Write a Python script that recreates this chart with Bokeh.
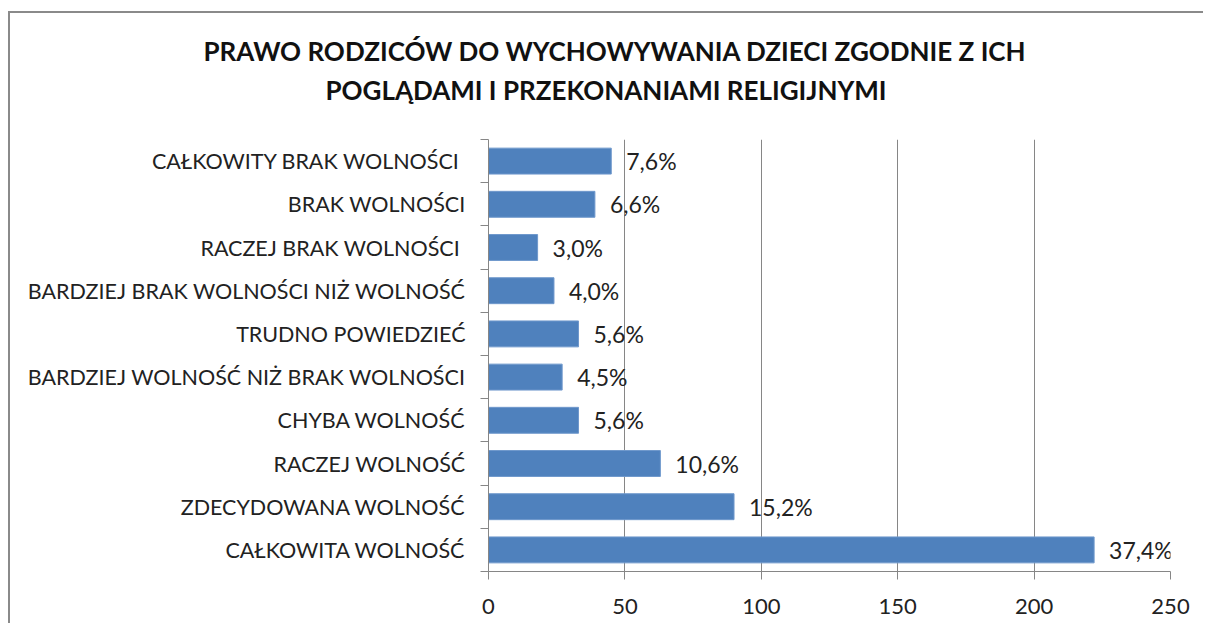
from bokeh.plotting import figure
from bokeh.models import Range1d, FixedTicker, ColumnDataSource, LabelSet, Title
from bokeh.core.properties import value
from bokeh.embed import file_html
from bokeh.resources import INLINE

categories = [
    "CAŁKOWITY BRAK WOLNOŚCI ",
    "BRAK WOLNOŚCI",
    "RACZEJ BRAK WOLNOŚCI ",
    "BARDZIEJ BRAK WOLNOŚCI NIŻ WOLNOŚĆ",
    "TRUDNO POWIEDZIEĆ",
    "BARDZIEJ WOLNOŚĆ NIŻ BRAK WOLNOŚCI",
    "CHYBA WOLNOŚĆ",
    "RACZEJ WOLNOŚĆ",
    "ZDECYDOWANA WOLNOŚĆ",
    "CAŁKOWITA WOLNOŚĆ",
]
counts = [45, 39, 18, 24, 33, 27, 33, 63, 90, 222]
percent_labels = ["7,6%", "6,6%", "3,0%", "4,0%", "5,6%", "4,5%", "5,6%", "10,6%", "15,2%", "37,4%"]
x_ticks = [0, 50, 100, 150, 200, 250]
title_lines = ["PRAWO RODZICÓW DO WYCHOWYWANIA DZIECI ZGODNIE Z ICH",
               "POGLĄDAMI I PRZEKONANIAMI RELIGIJNYMI"]

n = len(categories)
ypos = [n - 1 - i for i in range(n)]

FONT = "Lato"
GRAY = "#868686"

p = figure(width=1195, height=612, output_backend="svg", toolbar_location=None,
           x_range=Range1d(0, 250), y_range=Range1d(-0.5, n - 0.5),
           min_border_left=478, min_border_right=35, min_border_top=126, min_border_bottom=54)
p.margin = (13, 0, 0, 10)
p.styles = {"box-shadow": "-2px -2px 0px 0px #8a8a8a"}
p.outline_line_color = None
p.background_fill_color = "white"
p.border_fill_color = "white"

src = ColumnDataSource(dict(y=ypos, right=counts, lab=percent_labels))
p.hbar(y="y", right="right", left=0, height=0.6, source=src,
       fill_color="#4F81BD", line_color="#6f98cc", line_width=1)

p.add_layout(LabelSet(x="right", y="y", text="lab", source=src, x_offset=15,
                      text_baseline="middle", text_align="left",
                      text_font=value(FONT), text_font_size="23px", text_color="#222222"))

# x axis
p.xaxis.ticker = FixedTicker(ticks=x_ticks)
p.xaxis.axis_line_color = GRAY
p.xaxis.major_tick_line_color = GRAY
p.xaxis.major_tick_out = 8
p.xaxis.major_tick_in = 0
p.xaxis.minor_tick_line_color = None
p.xaxis.major_label_text_font = FONT
p.xaxis.major_label_text_font_size = "22px"
p.xaxis.major_label_text_color = "#222222"
p.xaxis.major_label_standoff = 19

# y axis
p.yaxis.ticker = FixedTicker(ticks=ypos, minor_ticks=[k - 0.5 for k in range(n + 1)])
p.yaxis.major_label_overrides = {ypos[i]: categories[i] for i in range(n)}
p.yaxis.axis_line_color = GRAY
p.yaxis.major_tick_line_color = None
p.yaxis.major_tick_out = 0
p.yaxis.major_tick_in = 0
p.yaxis.minor_tick_line_color = GRAY
p.yaxis.minor_tick_out = 8
p.yaxis.minor_tick_in = 0
p.yaxis.major_label_text_font = FONT
p.yaxis.major_label_text_font_size = "21.5px"
p.yaxis.major_label_text_color = "#222222"
p.yaxis.major_label_standoff = 15

p.xgrid.grid_line_color = GRAY
p.ygrid.grid_line_color = None

# spacer between frame and title lines
p.add_layout(Title(text=" ", text_font_size="1px", standoff=27), "above")
for t, off in zip(reversed(title_lines), [-163, -285]):
    p.add_layout(Title(text=t, align="left", offset=off, text_font=FONT,
                       text_font_size="26px", text_font_style="bold",
                       vertical_align="middle",
                       text_color="#111111", standoff=5), "above")

open("out.html", "w").write(file_html(p, INLINE))
